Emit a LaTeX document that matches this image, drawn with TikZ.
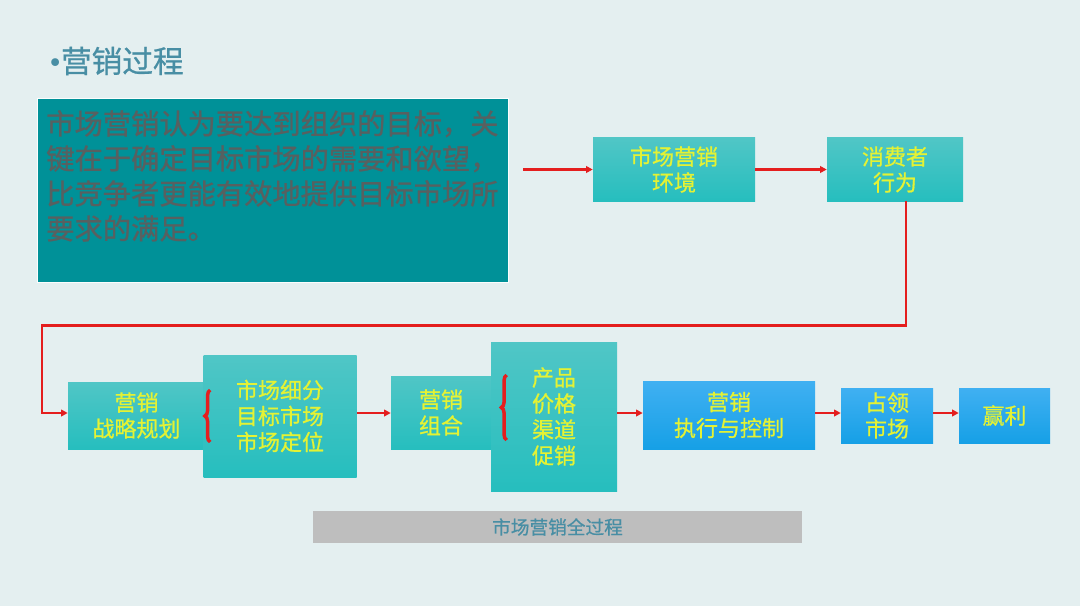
\documentclass[tikz,border=0pt]{standalone}
\usepackage{fontspec}
\newfontfamily\cjk{Noto Sans CJK SC}
\newfontfamily\cjkb[FakeBold=0.8]{Noto Sans CJK SC}
\newfontfamily\dejavu{DejaVu Sans}
\usetikzlibrary{arrows.meta,decorations.pathreplacing,calc}
\definecolor{bg}{RGB}{228,239,240}
\definecolor{bigteal}{RGB}{0,145,152}
\definecolor{tealtop}{RGB}{80,198,198}
\definecolor{tealbot}{RGB}{38,190,190}
\definecolor{bluetop}{RGB}{64,176,242}
\definecolor{bluebot}{RGB}{22,160,230}
\definecolor{ytext}{RGB}{228,242,52}
\definecolor{titlec}{RGB}{72,142,164}
\definecolor{graytext}{RGB}{88,96,96}
\definecolor{bar}{RGB}{190,190,190}
\definecolor{arr}{RGB}{228,30,30}
\tikzset{
  tbox/.style={rectangle, inner sep=0pt, align=center, text=ytext,
    top color=tealtop, bottom color=tealbot, font=\cjkb\fontsize{16.5pt}{19.5pt}\selectfont},
  bbox/.style={tbox, top color=bluetop, bottom color=bluebot},
  conn/.style={draw=arr, line width=1.9pt, -{Triangle[length=5pt,width=5pt]}},
  bracered/.style={draw=arr, line width=2.6pt, decorate, decoration={brace, amplitude=4pt}}
}
\newcommand{\W}[1]{#1*0.75pt}
\begin{document}
\begin{tikzpicture}[x=0.75pt,y=-0.75pt]
\fill[bg] (0,0) rectangle (1080,606);
\useasboundingbox (0,0) rectangle (1080,606);

\node[anchor=west, text=titlec, font=\cjkb\fontsize{23pt}{26pt}\selectfont, inner sep=0pt] (title) at (47,61) {{\dejavu\fontsize{20pt}{22pt}\selectfont •}\hspace{-1.5pt}营销过程};

\node[rectangle, fill=bigteal, draw=white!85!bg, line width=1pt, anchor=north west,
  minimum width=\W{471}, minimum height=\W{184}, inner sep=0pt] (big) at (37,98) {};
\node[anchor=north west, inner sep=0pt, align=left, text=graytext,
  font=\cjkb\fontsize{21.2pt}{26.25pt}\selectfont] (bigtext) at (46,110)
  {市场营销认为要达到组织的目标，关\\键在于确定目标市场的需要和欲望，\\比竞争者更能有效地提供目标市场所\\要求的满足。};

\node[tbox, minimum width=\W{162}, minimum height=\W{63}] (env) at (674,169.5) {市场营销\\环境};
\node[tbox, minimum width=\W{136}, minimum height=\W{63}] (cons) at (895,169.5) {消费者\\行为};

\node[tbox, minimum width=\W{137}, minimum height=\W{67}] (strat) at (136.5,415.5) {营销\\战略规划};
\node[tbox, minimum width=\W{153}, minimum height=\W{122}] (seg) at (280,416) {市场细分\\目标市场\\市场定位};
\node[tbox, minimum width=\W{100}, minimum height=\W{73}] (mix) at (441,412.5) {营销\\组合};
\node[tbox, minimum width=\W{126}, minimum height=\W{149}] (four) at (554,416.5) {产品\\价格\\渠道\\促销};
\node[bbox, minimum width=\W{172}, minimum height=\W{68}] (exec) at (729,415) {营销\\执行与控制};
\node[bbox, minimum width=\W{92}, minimum height=\W{55}] (occ) at (887,415.5) {占领\\市场};
\node[bbox, minimum width=\W{91}, minimum height=\W{55}] (win) at (1004.5,415.5) {赢利};

\node[rectangle, fill=bar, inner sep=0pt, minimum width=\W{489}, minimum height=\W{32},
  text=titlec, font=\cjkb\fontsize{14pt}{16pt}\selectfont] (barnode) at (557.5,527) {市场营销全过程};

% braces
\draw[bracered] ([xshift=\W{7}]seg.west |- 0,442) -- ([xshift=\W{7}]seg.west |- 0,390);
\draw[bracered] ([xshift=\W{16}]four.west |- 0,440) -- ([xshift=\W{16}]four.west |- 0,375);

% connectors
\draw[conn] ([xshift=\W{14}]big.east |- env.west) -- (env.west);
\draw[conn] (env.east) -- (cons.west);
\draw[conn] ([xshift=\W{11}]cons.south) -- ++(0,124) -| (42,413) -- (strat.west |- 0,413);
\draw[conn] (seg.east |- 0,413) -- (mix.west |- 0,413);
\draw[conn] (four.east |- 0,413) -- (exec.west |- 0,413);
\draw[conn] (exec.east |- 0,413) -- (occ.west |- 0,413);
\draw[conn] (occ.east |- 0,413) -- (win.west |- 0,413);
\end{tikzpicture}
\end{document}
